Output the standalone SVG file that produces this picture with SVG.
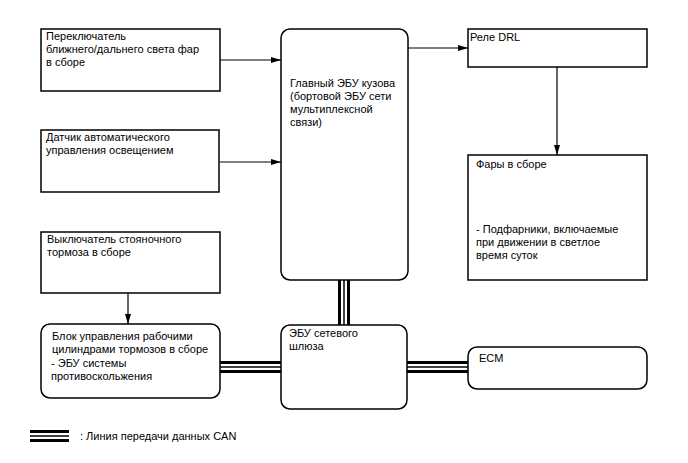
<svg xmlns="http://www.w3.org/2000/svg" width="688" height="463" viewBox="0 0 688 463">
<style>
.b{fill:#fff;stroke:#000;stroke-width:1.5}
.t{font-family:"Liberation Sans",Arial,sans-serif;font-size:11px;fill:#000}
.l{stroke:#000;stroke-width:1.2;fill:none}
.c3{stroke:#000;fill:none}
</style>
<defs>
<marker id="ah" markerWidth="10" markerHeight="8" refX="10" refY="4" orient="auto" markerUnits="userSpaceOnUse">
<path d="M0,1 L10,4 L0,7 Z" fill="#000"/>
</marker>
</defs>
<rect width="688" height="463" fill="#fff"/>
<g id="connectors">
<line class="l" x1="220" y1="60" x2="281" y2="60" marker-end="url(#ah)"/>
<line class="l" x1="220" y1="162" x2="281" y2="162" marker-end="url(#ah)"/>
<line class="l" x1="408" y1="48" x2="468" y2="48" marker-end="url(#ah)"/>
<line class="l" x1="557" y1="67" x2="557" y2="155" marker-end="url(#ah)"/>
<line class="l" x1="128" y1="293" x2="128" y2="324" marker-end="url(#ah)"/>
<g id="can-main-gw">
<line class="c3" x1="339.5" y1="280" x2="339.5" y2="325" stroke-width="3"/>
<line class="c3" x1="344" y1="280" x2="344" y2="325" stroke-width="1.5"/>
<line class="c3" x1="348.5" y1="280" x2="348.5" y2="325" stroke-width="3"/>
</g>
<g id="can-abs-gw">
<line class="c3" x1="220" y1="362.5" x2="281" y2="362.5" stroke-width="3"/>
<line class="c3" x1="220" y1="367" x2="281" y2="367" stroke-width="1.5"/>
<line class="c3" x1="220" y1="371.5" x2="281" y2="371.5" stroke-width="3"/>
</g>
<g id="can-gw-ecm">
<line class="c3" x1="407" y1="362.5" x2="468" y2="362.5" stroke-width="3"/>
<line class="c3" x1="407" y1="367" x2="468" y2="367" stroke-width="1.5"/>
<line class="c3" x1="407" y1="371.5" x2="468" y2="371.5" stroke-width="3"/>
</g>
</g>
<g id="n-switch">
<rect class="b" x="41" y="29" width="179" height="62"/>
<text class="t" x="46" y="40">Переключатель</text>
<text class="t" x="46" y="53">ближнего/дальнего света фар</text>
<text class="t" x="46" y="66">в сборе</text>
</g>
<g id="n-sensor">
<rect class="b" x="41" y="130" width="178" height="62"/>
<text class="t" x="46" y="141">Датчик автоматического</text>
<text class="t" x="46" y="154">управления освещением</text>
</g>
<g id="n-main">
<rect class="b" x="281" y="29" width="127" height="251" rx="9"/>
<text class="t" x="290" y="87">Главный ЭБУ кузова</text>
<text class="t" x="290" y="100">(бортовой ЭБУ сети</text>
<text class="t" x="290" y="113">мультиплексной</text>
<text class="t" x="290" y="126">связи)</text>
</g>
<g id="n-relay">
<rect class="b" x="468" y="29" width="179" height="38"/>
<text class="t" x="470" y="41">Реле DRL</text>
</g>
<g id="n-head">
<rect class="b" x="468" y="155" width="179" height="125"/>
<text class="t" x="476" y="168">Фары в сборе</text>
<text class="t" x="476" y="233">- Подфарники, включаемые</text>
<text class="t" x="476" y="246">при движении в светлое</text>
<text class="t" x="476" y="259">время суток</text>
</g>
<g id="n-parking">
<rect class="b" x="41" y="232" width="179" height="61"/>
<text class="t" x="47" y="243">Выключатель стояночного</text>
<text class="t" x="47" y="256">тормоза в сборе</text>
</g>
<g id="n-abs">
<rect class="b" x="41" y="324" width="179" height="74" rx="9"/>
<text class="t" x="52" y="340">Блок управления рабочими</text>
<text class="t" x="52" y="353">цилиндрами тормозов в сборе</text>
<text class="t" x="51" y="367">- ЭБУ системы</text>
<text class="t" x="51" y="380">противоскольжения</text>
</g>
<g id="n-gateway">
<rect class="b" x="281" y="325" width="126" height="84" rx="9"/>
<text class="t" x="289" y="337">ЭБУ сетевого</text>
<text class="t" x="289" y="350">шлюза</text>
</g>
<g id="n-ecm">
<rect class="b" x="468" y="347" width="179" height="42" rx="9"/>
<text class="t" x="479" y="362">ECM</text>
</g>
<g id="legend">
<line class="c3" x1="30" y1="431.5" x2="69" y2="431.5" stroke-width="3"/>
<line class="c3" x1="30" y1="436" x2="69" y2="436" stroke-width="1.5"/>
<line class="c3" x1="30" y1="440.5" x2="69" y2="440.5" stroke-width="3"/>
<text class="t" x="80" y="440">: Линия передачи данных CAN</text>
</g>
</svg>
